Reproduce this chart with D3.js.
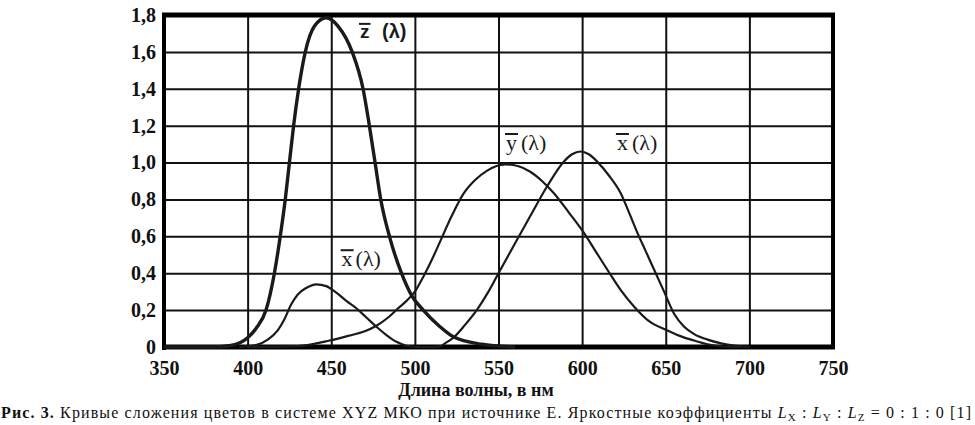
<!DOCTYPE html>
<html>
<head>
<meta charset="utf-8">
<script src="https://cdn.jsdelivr.net/npm/d3@7"></script>
<style>
  body { margin: 0; background: #fff; }
  svg { display: block; }
  .tick text { font-family: "Liberation Serif", serif; font-weight: bold; font-size: 20px; fill: #111; }
  .grid .tick line { stroke: #111; stroke-width: 2; }
  .grid .domain { display: none; }
  .curve { fill: none; stroke: #1a1a1a; }
  .lbl { font-family: "Liberation Serif", serif; font-size: 22px; fill: #1a1a1a; }
</style>
</head>
<body>
<svg width="975" height="425"></svg>
<script>
// wavelength ticks and value ticks
var xTicks = [350, 400, 450, 500, 550, 600, 650, 700, 750];
var yTicks = [0, 0.2, 0.4, 0.6, 0.8, 1.0, 1.2, 1.4, 1.6, 1.8];
var yTickLabels = ["0", "0,2", "0,4", "0,6", "0,8", "1,0", "1,2", "1,4", "1,6", "1,8"];

// [wavelength nm, value]
var zBar = [[350, 0], [380, 0], [390, 0.008], [400, 0.05], [405, 0.1], [411, 0.2], [416, 0.4],
  [419.5, 0.6], [422.5, 0.8], [425, 1.0], [427.5, 1.2], [430.5, 1.4], [434.5, 1.6], [440, 1.74],
  [447, 1.785], [454, 1.74], [462.5, 1.6], [469, 1.4], [472.8, 1.2], [476.2, 1.0], [479.6, 0.8],
  [484.8, 0.6], [492, 0.4], [498, 0.28], [505, 0.2], [515, 0.11], [523, 0.055], [540, 0.015], [560, 0]];

var xBar = [[395, 0], [405, 0.01], [412, 0.04], [418, 0.09], [422, 0.15], [426, 0.23], [430, 0.285],
  [435, 0.32], [441, 0.34], [447, 0.33], [453, 0.295], [459, 0.25], [465, 0.21], [471, 0.16],
  [477, 0.11], [483, 0.065], [489, 0.028], [495, 0.007], [502, 0], [510, 0], [515, 0.003],
  [518, 0.02], [523, 0.05], [530, 0.12], [537, 0.2], [544, 0.3], [550, 0.4], [561, 0.58],
  [569, 0.71], [579, 0.87], [589, 1.005], [594, 1.045], [599, 1.06], [604, 1.045], [609, 1.005],
  [616, 0.93], [623, 0.835], [628, 0.73], [633, 0.62], [638, 0.52], [643, 0.42], [649, 0.3],
  [655, 0.18], [661, 0.11], [667, 0.07], [675, 0.04], [683, 0.02], [691, 0.007], [700, 0]];

var yBar = [[400, 0], [430, 0.005], [449, 0.035], [460, 0.06], [470, 0.085], [477, 0.115],
  [484, 0.16], [490, 0.21], [495, 0.25], [500, 0.3], [505, 0.38], [510, 0.47], [515, 0.57],
  [522, 0.71], [529, 0.83], [536, 0.905], [543, 0.955], [554, 0.99], [562, 0.98], [569, 0.95],
  [576, 0.9], [583, 0.835], [592, 0.73], [601, 0.62], [608, 0.52], [615, 0.42], [623, 0.31],
  [631, 0.22], [640, 0.14], [651, 0.09], [660, 0.055], [667, 0.035], [675, 0.015], [683, 0.004], [695, 0]];

var svg = d3.select("svg");
var pad = { left: 164, right: 833, top: 15, bottom: 347 };

var x = d3.scaleLinear().domain([350, 750]).range([pad.left, pad.right]);
var y = d3.scaleLinear().domain([0, 1.8]).range([pad.bottom, pad.top]);

// grid from the axes
svg.append("g")
  .attr("class", "grid")
  .attr("transform", "translate(0," + pad.bottom + ")")
  .call(d3.axisBottom(x).tickValues(xTicks.slice(1, -1)).tickSize(-(pad.bottom - pad.top)).tickFormat(""));
svg.append("g")
  .attr("class", "grid")
  .attr("transform", "translate(" + pad.left + ",0)")
  .call(d3.axisLeft(y).tickValues(yTicks.slice(1, -1)).tickSize(-(pad.right - pad.left)).tickFormat(""));

// frame
svg.append("line").attr("x1", pad.left - 2).attr("x2", pad.right + 2).attr("y1", pad.top).attr("y2", pad.top)
  .attr("stroke", "#000").attr("stroke-width", 5);
svg.append("line").attr("x1", pad.right).attr("x2", pad.right).attr("y1", pad.top).attr("y2", pad.bottom)
  .attr("stroke", "#000").attr("stroke-width", 4);
svg.append("line").attr("x1", pad.left).attr("x2", pad.left).attr("y1", pad.top - 2).attr("y2", pad.bottom + 3)
  .attr("stroke", "#000").attr("stroke-width", 4);
svg.append("line").attr("x1", pad.left).attr("x2", pad.right + 2).attr("y1", pad.bottom).attr("y2", pad.bottom)
  .attr("stroke", "#000").attr("stroke-width", 5);

// tick labels
var gx = svg.append("g")
  .attr("transform", "translate(0," + pad.bottom + ")")
  .call(d3.axisBottom(x).tickValues(xTicks).tickSize(0).tickPadding(14));
gx.select(".domain").remove();

var gy = svg.append("g")
  .attr("transform", "translate(" + pad.left + ",0)")
  .call(d3.axisLeft(y).tickValues(yTicks).tickSize(0).tickPadding(8)
    .tickFormat(function (d, i) { return yTickLabels[i]; }));
gy.select(".domain").remove();

// curves
var line = d3.line()
  .x(function (d) { return x(d[0]); })
  .y(function (d) { return y(d[1]); })
  .curve(d3.curveMonotoneX);

svg.append("path").attr("class", "curve").attr("stroke-width", 2.2).attr("d", line(yBar));
svg.append("path").attr("class", "curve").attr("stroke-width", 2.2).attr("d", line(xBar));
svg.append("path").attr("class", "curve").attr("stroke-width", 3.4).attr("stroke", "#000").attr("d", line(zBar));

// curve labels: letter with a bar over it, then (λ)
function label(letter, nm, v, gap, barUp, sans) {
  var px = x(nm), py = y(v);
  var g = svg.append("g");
  var t = g.append("text").attr("class", "lbl").attr("x", px).attr("y", py).text(letter);
  var rest = g.append("text").attr("class", "lbl").attr("x", px + gap).attr("y", py).text("(λ)");
  if (sans) {
    g.selectAll("text").style("font-family", "'Liberation Sans', sans-serif")
      .style("font-weight", "bold").style("font-size", "19px");
    rest.style("font-size", "20px");
  }
  var w = t.node().getComputedTextLength();
  g.append("line").attr("x1", px - 1).attr("x2", px + w + 1)
    .attr("y1", py - barUp).attr("y2", py - barUp)
    .attr("stroke", "#1a1a1a").attr("stroke-width", 2);
}
label("z", 467.2, 1.676, 22, 14, true);
label("x", 456.2, 0.438, 14, 16);
label("y", 554.5, 1.068, 15, 16);
label("x", 620.8, 1.068, 15, 16);

// axis title
svg.append("text")
  .attr("x", 476).attr("y", 396)
  .attr("text-anchor", "middle")
  .style("font-family", "'Liberation Serif', serif")
  .style("font-weight", "bold")
  .style("font-size", "18px")
  .attr("fill", "#111")
  .text("Длина волны, в нм");

// caption
var cap = svg.append("text")
  .attr("x", 1).attr("y", 418)
  .attr("textLength", 970).attr("lengthAdjust", "spacing")
  .style("font-family", "'Liberation Serif', serif")
  .style("font-size", "16px")
  .attr("fill", "#111");
cap.append("tspan").style("font-weight", "bold").text("Рис. 3.");
cap.append("tspan").text(" Кривые сложения цветов в системе XYZ МКО при источнике Е. Яркостные коэффициенты ");
function sub(letter) {
  cap.append("tspan").style("font-style", "italic").text("L");
  cap.append("tspan").attr("dy", 3).style("font-size", "11px").text(letter);
  cap.append("tspan").attr("dy", -3).text(" ");
}
sub("X"); cap.append("tspan").text(": ");
sub("Y"); cap.append("tspan").text(": ");
sub("Z"); cap.append("tspan").text("= 0 : 1 : 0 [1]");
</script>
</body>
</html>
